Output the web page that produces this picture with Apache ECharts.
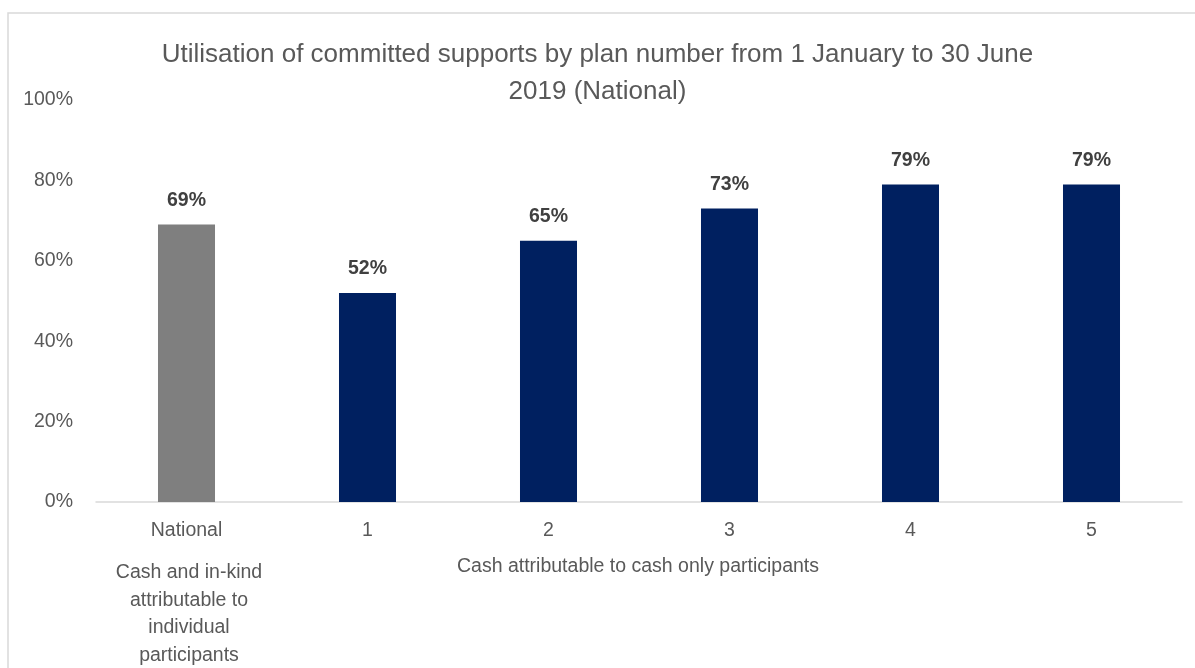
<!DOCTYPE html>
<html>
<head>
<meta charset="utf-8">
<script src="https://cdn.jsdelivr.net/npm/echarts@6/dist/echarts.min.js"></script>
<style>
html,body{margin:0;padding:0;background:#fff;}
#chart{width:1195px;height:668px;}
</style>
</head>
<body>
<div id="chart"></div>
<script>
var categories = ['National', '1', '2', '3', '4', '5'];
var values = [69, 52, 65, 73, 79, 79];
var yTicks = [0, 20, 40, 60, 80, 100];
var titleText = 'Utilisation of committed supports by plan number from 1 January to 30 June\n2019 (National)';
var groupNational = 'Cash and in-kind\nattributable to\nindividual\nparticipants';
var groupCash = 'Cash attributable to cash only participants';

var FONT = '"Liberation Sans", Arial, sans-serif';
var chart = echarts.init(document.getElementById('chart'), null, {renderer: 'canvas'});
chart.setOption({
  animation: false,
  backgroundColor: '#ffffff',
  title: {
    text: titleText,
    left: 'center',
    top: 31,
    textStyle: {fontFamily: FONT, fontSize: 26, fontWeight: 'normal', color: '#595959', lineHeight: 37}
  },
  grid: {left: 96, right: 13, top: 100, bottom: 166, containLabel: false},
  xAxis: {
    type: 'category',
    data: categories,
    axisLine: {lineStyle: {color: '#d9d9d9', width: 1.5}},
    axisTick: {show: false},
    axisLabel: {fontFamily: FONT, fontSize: 19.5, color: '#595959', margin: 19}
  },
  yAxis: {
    type: 'value',
    min: yTicks[0],
    max: yTicks[yTicks.length - 1],
    interval: yTicks[1] - yTicks[0],
    splitLine: {show: false},
    axisLine: {show: false},
    axisTick: {show: false},
    axisLabel: {fontFamily: FONT, fontSize: 19.5, color: '#595959', margin: 23, formatter: '{value}%'}
  },
  series: [{
    type: 'bar',
    data: values,
    barWidth: '31.5%',
    itemStyle: {
      color: function (p) { return p.dataIndex === 0 ? '#7f7f7f' : '#002060'; }
    },
    label: {
      show: true,
      position: 'top',
      distance: 14,
      formatter: '{c}%',
      fontFamily: FONT,
      fontSize: 19.5,
      fontWeight: 'bold',
      color: '#404040'
    }
  }],
  graphic: [
    {type: 'rect', x: 8, y: 13, shape: {x: 0, y: 0, width: 1200, height: 700}, style: {fill: 'none', stroke: '#d9d9d9', lineWidth: 1.5}, silent: true},
    {type: 'text', x: 189, y: 559, style: {text: groupNational, font: '19.5px ' + FONT, fill: '#595959', align: 'center', textAlign: 'center', lineHeight: 27.5}},
    {type: 'text', x: 638, y: 557, style: {text: groupCash, font: '19.5px ' + FONT, fill: '#595959', align: 'center', textAlign: 'center'}}
  ]
});
</script>
</body>
</html>
